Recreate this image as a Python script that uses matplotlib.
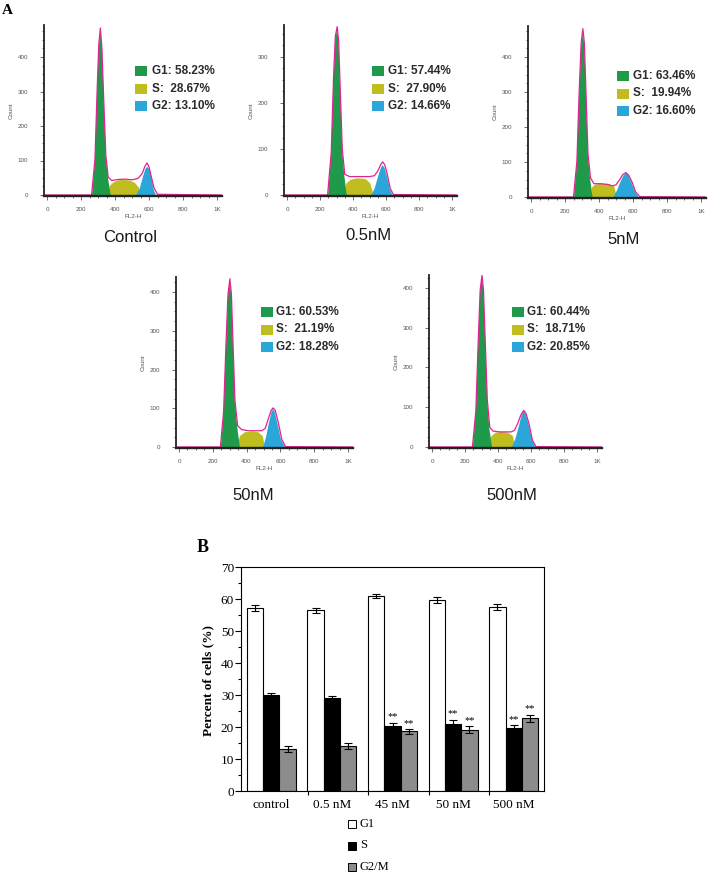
import matplotlib.pyplot as plt
from matplotlib.patches import Rectangle
import numpy as np

W, H = 711, 874
SANS = 'Liberation Sans'
SERIF = 'Liberation Serif'

# ---- panel A data (flow cytometry histograms, FL2-H channel vs count) ----
samples = ['Control', '0.5nM', '5nM', '50nM', '500nM']
g1_pct = [58.23, 57.44, 63.46, 60.53, 60.44]
s_pct = [28.67, 27.90, 19.94, 21.19, 18.71]
g2_pct = [13.10, 14.66, 16.60, 18.28, 20.85]

# G1 peak outline (x, count)
g1_x = [[265, 282, 295, 305, 314, 323, 333, 346, 360, 375],
        [249, 268, 282, 293, 304, 313, 322, 335, 348, 362],
        [253, 270, 283, 295, 305, 314, 323, 335, 348, 362],
        [248, 264, 278, 290, 301, 310, 319, 331, 345, 360],
        [248, 266, 280, 292, 303, 312, 322, 335, 348, 364]]
g1_y = [[0, 100, 300, 430, 470, 420, 280, 110, 45, 0],
        [0, 90, 250, 340, 362, 330, 230, 95, 40, 0],
        [0, 100, 290, 430, 470, 430, 300, 120, 50, 0],
        [0, 90, 260, 390, 425, 390, 270, 115, 50, 0],
        [0, 90, 260, 390, 429, 390, 270, 115, 45, 0]]
# S phase
s_x = [[358, 372, 395, 425, 455, 485, 515, 540, 555],
       [345, 360, 385, 420, 450, 480, 505, 525],
       [348, 360, 380, 420, 460, 490, 505],
       [345, 360, 390, 430, 470, 495, 510],
       [345, 358, 385, 424, 460, 490, 505]]
s_y = [[0, 28, 38, 43, 44, 42, 36, 22, 0],
       [0, 25, 33, 36, 36, 34, 25, 0],
       [0, 28, 36, 38, 36, 30, 0],
       [0, 28, 38, 40, 38, 28, 0],
       [0, 26, 36, 38, 36, 28, 0]]
# G2 peak
g2_x = [[525, 545, 562, 578, 590, 602, 615, 628, 640],
        [512, 532, 550, 568, 580, 592, 608, 624, 640],
        [485, 505, 525, 545, 558, 572, 592, 612, 633],
        [498, 515, 532, 547, 557, 567, 583, 603, 626],
        [485, 505, 525, 543, 556, 569, 588, 607, 626]]
g2_y = [[0, 18, 48, 75, 82, 75, 48, 15, 0],
        [0, 15, 38, 58, 65, 58, 38, 12, 0],
        [0, 18, 42, 62, 69, 63, 40, 15, 0],
        [0, 25, 62, 90, 98, 90, 60, 20, 0],
        [0, 20, 50, 80, 91, 82, 52, 18, 0]]
# total histogram envelope
env_x = [[-20, 262, 282, 295, 305, 314, 323, 333, 346, 360, 380, 420, 460, 500, 535, 560, 575, 588, 600, 615, 630, 650, 1030],
         [-20, 246, 268, 282, 293, 304, 313, 322, 335, 350, 380, 420, 460, 500, 530, 550, 568, 580, 592, 608, 625, 645, 1030],
         [-20, 250, 270, 283, 295, 305, 314, 323, 335, 350, 370, 410, 450, 480, 500, 520, 540, 558, 575, 595, 615, 640, 1030],
         [-20, 245, 264, 278, 290, 301, 310, 319, 331, 347, 370, 410, 450, 490, 510, 528, 545, 557, 570, 588, 608, 630, 1030],
         [-20, 245, 266, 280, 292, 303, 312, 322, 335, 350, 370, 410, 450, 480, 500, 520, 540, 556, 570, 590, 608, 630, 1030]]
env_y = [[0, 0, 102, 305, 440, 484, 425, 285, 115, 52, 42, 45, 46, 44, 48, 62, 82, 93, 82, 50, 20, 2, 0],
         [0, 0, 92, 255, 345, 366, 335, 235, 100, 45, 40, 40, 40, 40, 42, 52, 66, 72, 66, 45, 15, 1, 0],
         [0, 0, 102, 295, 440, 481, 440, 305, 125, 55, 38, 38, 36, 32, 35, 48, 64, 70, 62, 42, 15, 1, 0],
         [0, 0, 92, 265, 395, 434, 395, 275, 120, 55, 45, 42, 42, 42, 48, 72, 94, 101, 94, 62, 20, 1, 0],
         [0, 0, 92, 265, 395, 432, 395, 275, 120, 50, 40, 38, 38, 38, 42, 60, 82, 92, 84, 55, 18, 1, 0]]
hist_ymax = [494, 370, 490, 440, 432]
hist_yticks = [[0, 100, 200, 300, 400], [0, 100, 200, 300],
               [0, 100, 200, 300, 400], [0, 100, 200, 300, 400],
               [0, 100, 200, 300, 400]]

# ---- panel B data (percent of cells) ----
groups = ['control', '0.5 nM', '45 nM', '50 nM', '500 nM']
g1_mean = [57.2, 56.5, 60.9, 59.6, 57.5]
g1_err = [0.9, 0.8, 0.7, 0.9, 1.0]
s_mean = [29.9, 29.1, 20.4, 21.0, 19.6]
s_err = [0.7, 0.7, 0.9, 1.3, 0.9]
g2_mean = [13.1, 14.0, 18.6, 19.2, 22.8]
g2_err = [0.9, 0.9, 0.8, 1.0, 1.1]
s_sig = ['', '', '**', '**', '**']
g2_sig = ['', '', '**', '**', '**']

c_g1 = '#1f9a4b'
c_s = '#bfbd1f'
c_g2 = '#2ba6d9'
c_env = '#e0248f'

fig = plt.figure(figsize=(W / 100, H / 100), dpi=100)


def px_axes(x0px, sx, y0px, sy, xlim, ylim):
    left = x0px + xlim[0] * sx
    right = x0px + xlim[1] * sx
    top = y0px - ylim[1] * sy
    bottom = y0px - ylim[0] * sy
    return fig.add_axes([left / W, 1 - bottom / H, (right - left) / W, (bottom - top) / H])


# pixel placement of each histogram: (x of 0, px per unit x, y of 0, px per count)
hist_px = [(47, 0.17, 195, 0.345), (287, 0.165, 195, 0.46), (531, 0.17, 197, 0.35),
           (179, 0.169, 447, 0.3875), (432, 0.165, 447, 0.3975)]
title_px = [(130, 237), (368, 236), (624, 240), (253, 495), (512, 495)]
legend_px = [(135, 152, 71), (372, 388, 71), (617, 633, 76), (261, 276, 312), (512, 527, 312)]

for i in range(5):
    x0px, sx, y0px, sy = hist_px[i]
    ax = px_axes(x0px, sx, y0px, sy, (-20, 1030), (-3, hist_ymax[i]))
    ax.fill(s_x[i], s_y[i], color=c_s, lw=0)
    ax.fill(g2_x[i], g2_y[i], color=c_g2, lw=0)
    ax.fill(g1_x[i], g1_y[i], color=c_g1, lw=0)
    ax.plot(env_x[i], env_y[i], color=c_env, lw=0.9)
    ax.set_xlim(-20, 1030)
    ax.set_ylim(-3, hist_ymax[i])
    ax.spines[['top', 'right']].set_visible(False)
    ax.spines['left'].set_linewidth(1.3)
    ax.spines['bottom'].set_linewidth(1.7)
    ax.spines['bottom'].set_color('#222222')
    ax.spines['left'].set_color('#222222')
    ax.set_xticks([0, 200, 400, 600, 800, 1000], ['0', '200', '400', '600', '800', '1K'])
    ax.set_xticks(np.arange(0, 1001, 50), minor=True)
    ax.set_yticks(hist_yticks[i])
    ax.set_yticks(np.arange(0, hist_ymax[i], 25), minor=True)
    ax.tick_params(which='both', direction='out', colors='#555555', labelsize=4.5, width=0.6)
    ax.tick_params(which='major', length=3)
    ax.tick_params(axis='x', which='major', pad=5)
    ax.tick_params(axis='y', which='major', pad=8)
    ax.tick_params(which='minor', length=1.5)
    for lab in ax.get_xticklabels() + ax.get_yticklabels():
        lab.set_family(SANS)
    ax.set_xlabel('FL2-H', fontsize=4.5, family=SANS, color='#555555', labelpad=1)
    ax.set_ylabel('Count', fontsize=4.5, family=SANS, color='#555555', labelpad=3)

    tx, ty = title_px[i]
    fig.text(tx / W, 1 - ty / H, samples[i], ha='center', va='center',
             fontsize=12, family=SANS, color='#1a1a1a')

    sqx, txx, ly = legend_px[i]
    labels = [f'G1: {g1_pct[i]:.2f}%', f'S:  {s_pct[i]:.2f}%', f'G2: {g2_pct[i]:.2f}%']
    for k, (lab, col) in enumerate(zip(labels, [c_g1, c_s, c_g2])):
        yc = ly + k * 17.5
        fig.add_artist(Rectangle((sqx / W, 1 - (yc + 5) / H), 12 / W, 10 / H,
                                 transform=fig.transFigure, color=col, lw=0))
        fig.text(txx / W, 1 - yc / H, lab, ha='left', va='center', fontsize=8.5,
                 family=SANS, fontweight='bold', color='#2b2b2b')

fig.text(7 / W, 1 - 11 / H, 'A', fontsize=11, family=SERIF, fontweight='bold',
         ha='center', va='center')

# ---- panel B ----
axb = fig.add_axes([241 / W, 1 - 791 / H, 303 / W, 224 / H])
x = np.arange(len(groups))
bw = 0.27
ekw = dict(ecolor='black', elinewidth=0.8, capsize=3, capthick=0.8)
axb.bar(x - bw, g1_mean, bw, yerr=g1_err, color='white', edgecolor='black', lw=0.8, error_kw=ekw)
axb.bar(x, s_mean, bw, yerr=s_err, color='black', edgecolor='black', lw=0.8, error_kw=ekw)
axb.bar(x + bw, g2_mean, bw, yerr=g2_err, color='#8c8c8c', edgecolor='black', lw=0.8, error_kw=ekw)
for i in range(len(groups)):
    if s_sig[i]:
        axb.text(x[i], s_mean[i] + s_err[i] + 0.4, s_sig[i], ha='center', va='bottom',
                 fontsize=7.5, family=SERIF)
    if g2_sig[i]:
        axb.text(x[i] + bw, g2_mean[i] + g2_err[i] + 0.4, g2_sig[i], ha='center', va='bottom',
                 fontsize=7.5, family=SERIF)
axb.set_xlim(-0.5, 4.5)
axb.set_ylim(0, 70)
axb.set_yticks(np.arange(0, 71, 10))
axb.set_yticks(np.arange(0, 71, 5), minor=True)
axb.set_xticks(x, groups)
axb.set_xticks([0.6, 1.6, 2.6, 3.6], minor=True)
axb.tick_params(axis='x', which='major', length=0, pad=6)
axb.tick_params(axis='x', which='minor', length=3, direction='out', width=0.8)
axb.tick_params(axis='y', which='major', length=4, direction='out', width=0.8, pad=1)
axb.tick_params(axis='y', which='minor', length=2, direction='out', width=0.8)
axb.tick_params(labelsize=9.5)
for lab in axb.get_xticklabels() + axb.get_yticklabels():
    lab.set_family(SERIF)
for sp in axb.spines.values():
    sp.set_linewidth(0.8)

fig.text(208 / W, 1 - 681 / H, 'Percent of cells (%)', rotation=90, ha='center', va='center',
         fontsize=9.5, family=SERIF, fontweight='bold')
fig.text(203 / W, 1 - 547 / H, 'B', fontsize=13, family=SERIF, fontweight='bold',
         ha='center', va='center')

leg_labels = ['G1', 'S', 'G2/M']
leg_cols = ['white', 'black', '#8c8c8c']
for k in range(3):
    yc = 824 + k * 21.5
    fig.add_artist(Rectangle((348 / W, 1 - (yc + 4) / H), 8 / W, 8 / H,
                             transform=fig.transFigure, facecolor=leg_cols[k],
                             edgecolor='black', lw=0.7))
    fig.text(360 / W, 1 - yc / H, leg_labels[k], ha='left', va='center',
             fontsize=9, family=SERIF)

fig.savefig('out.png', dpi=100)
